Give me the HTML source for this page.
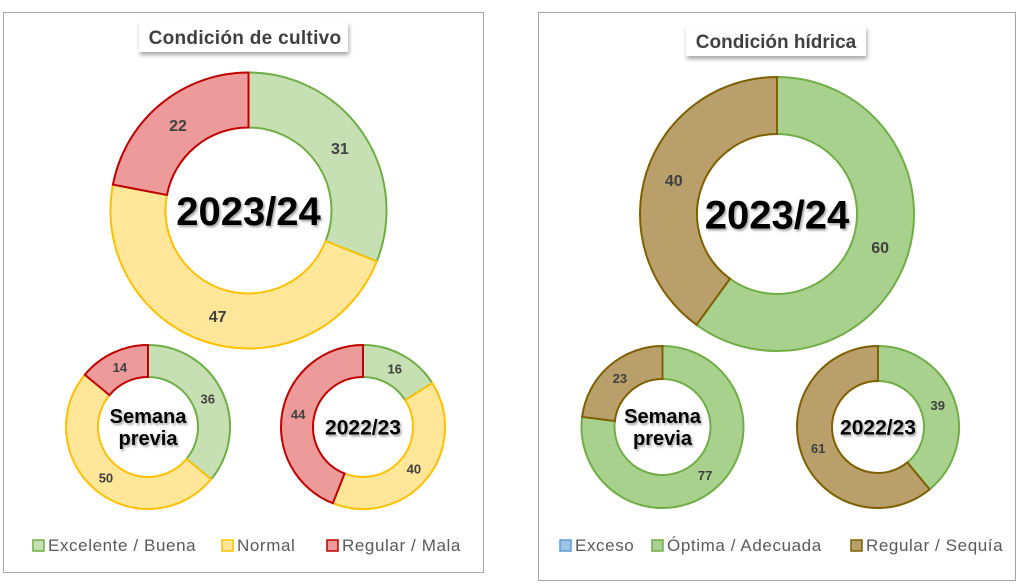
<!DOCTYPE html>
<html><head><meta charset="utf-8">
<style>
body{margin:0;background:#fff;width:1024px;height:585px;overflow:hidden;font-family:"Liberation Sans",sans-serif}
svg{position:absolute;left:0;top:0}
</style></head>
<body>
<svg id="c" width="1024" height="585">
<defs>
<filter id="sh" x="-20%" y="-20%" width="140%" height="160%"><feDropShadow dx="1" dy="3" stdDeviation="2" flood-color="#000" flood-opacity="0.35"/></filter>
<filter id="tsh" x="-10%" y="-10%" width="120%" height="130%"><feDropShadow dx="1.5" dy="2" stdDeviation="1" flood-color="#000" flood-opacity="0.35"/></filter>
</defs>
<rect x="3.5" y="12.5" width="480" height="560" fill="#fff" stroke="#a6a6a6"/>
<rect x="538.5" y="12.5" width="477" height="568" fill="#fff" stroke="#a6a6a6"/>
<g>
<rect x="139" y="22" width="209" height="30" fill="#fff" filter="url(#sh)"/>
<text x="245" y="44" text-anchor="middle" font-size="19" font-weight="bold" fill="#404040" letter-spacing="0.3">Condición  de cultivo</text>
</g>
<g>
<rect x="686" y="26" width="180" height="30" fill="#fff" filter="url(#sh)"/>
<text x="776" y="48" text-anchor="middle" font-size="19" font-weight="bold" fill="#404040">Condición  hídrica</text>
</g>
<g id="donuts"></g>
<g id="legends"></g>
</svg>
<script>
const cropCategories=["Excelente / Buena","Normal","Regular / Mala"];
const cropCurrent=[31,47,22];
const cropPrevWeek=[36,50,14];
const cropLastYear=[16,40,44];
const waterCategories=["Exceso","Óptima / Adecuada","Regular / Sequía"];
const waterCurrent=[0,60,40];
const waterPrevWeek=[0,77,23];
const waterLastYear=[0,39,61];

const cropFill=["#c6e0b4","#ffe699","#ec9a9a"],cropStroke=["#70ad47","#ffc000","#c00000"];
const waterFill=["#9dc3e6","#a9d18e","#b9a06b"],waterStroke=["#5b9bd5","#70ad47","#7f6000"];
const NS="http://www.w3.org/2000/svg";
const g=document.getElementById('donuts');
function pt(cx,cy,r,a){return [cx+r*Math.sin(a),cy-r*Math.cos(a)];}
function donut(name,vals,cx,cy,ro,ri,fills,strokes,label,lfs,vfs){
  const grp=document.createElementNS(NS,'g');
  
  
  g.appendChild(grp);
  const tot=vals.reduce((a,b)=>a+b,0);let acc=0;
  vals.forEach((v,i)=>{
    if(v<=0){acc+=v;return;}
    const a0=acc/tot*2*Math.PI,a1=(acc+v)/tot*2*Math.PI;acc+=v;
    const lg=(a1-a0)>Math.PI?1:0;
    const [x0,y0]=pt(cx,cy,ro,a0),[x1,y1]=pt(cx,cy,ro,a1),[x2,y2]=pt(cx,cy,ri,a1),[x3,y3]=pt(cx,cy,ri,a0);
    const p=document.createElementNS(NS,'path');
    p.setAttribute('d',`M${x0},${y0}A${ro},${ro} 0 ${lg} 1 ${x1},${y1}L${x2},${y2}A${ri},${ri} 0 ${lg} 0 ${x3},${y3}Z`);
    p.setAttribute('fill',fills[i]);p.setAttribute('stroke',strokes[i]);p.setAttribute('stroke-width','2');
    
    
    grp.appendChild(p);
    const am=(a0+a1)/2,[lx,ly]=pt(cx,cy,(ro+ri)/2,am);
    const t=document.createElementNS(NS,'text');
    t.setAttribute('x',lx);t.setAttribute('y',ly+vfs*0.35);t.setAttribute('text-anchor','middle');
    t.setAttribute('font-size',vfs);t.setAttribute('font-weight','bold');t.setAttribute('fill','#404040');
    t.textContent=v;
    
    
    grp.appendChild(t);
  });
  const lines=label.split('\n');
  lines.forEach((ln,k)=>{
    const t=document.createElementNS(NS,'text');
    const off=(k-(lines.length-1)/2)*lfs*1.1;
    t.setAttribute('x',cx);t.setAttribute('y',cy+off+lfs*0.36);t.setAttribute('text-anchor','middle');
    t.setAttribute('font-size',lfs);t.setAttribute('font-weight','bold');t.setAttribute('fill','#000');
    t.setAttribute('filter','url(#tsh)');
    t.textContent=ln;
    
    
    grp.appendChild(t);
  });
}
donut('crop-current-donut',cropCurrent,248.5,210.5,138,83,cropFill,cropStroke,'2023/24',40,16);
donut('crop-prev-week-donut',cropPrevWeek,148,427,82,50,cropFill,cropStroke,'Semana\nprevia',20,13);
donut('crop-last-year-donut',cropLastYear,363,427,82,50,cropFill,cropStroke,'2022/23',21,13);
donut('water-current-donut',waterCurrent,777,214,137,80,waterFill,waterStroke,'2023/24',40,16);
donut('water-prev-week-donut',waterPrevWeek,662.5,427,81,48,waterFill,waterStroke,'Semana\nprevia',20,13);
donut('water-last-year-donut',waterLastYear,878,427,81,46,waterFill,waterStroke,'2022/23',21,13);

const lg=document.getElementById('legends');
function legend(cats,fills,strokes,xs,y,pfx){
  cats.forEach((c,i)=>{
    const e=document.createElementNS(NS,'g');
    
    
    const r=document.createElementNS(NS,'rect');
    r.setAttribute('x',xs[i]);r.setAttribute('y',y-10);r.setAttribute('width',11);r.setAttribute('height',11);
    r.setAttribute('fill',fills[i]);r.setAttribute('stroke',strokes[i]);r.setAttribute('stroke-width','1.5');
    e.appendChild(r);
    const t=document.createElementNS(NS,'text');
    t.setAttribute('x',xs[i]+15);t.setAttribute('y',y+1);t.setAttribute('font-size','17');t.setAttribute('fill','#595959');
    t.setAttribute('letter-spacing','0.6');
    t.textContent=c;e.appendChild(t);lg.appendChild(e);
  });
}
legend(cropCategories,cropFill,cropStroke,[33,222,327],550,'crop');
legend(waterCategories,waterFill,waterStroke,[560,652,851],550,'water');
</script>
</body></html>
